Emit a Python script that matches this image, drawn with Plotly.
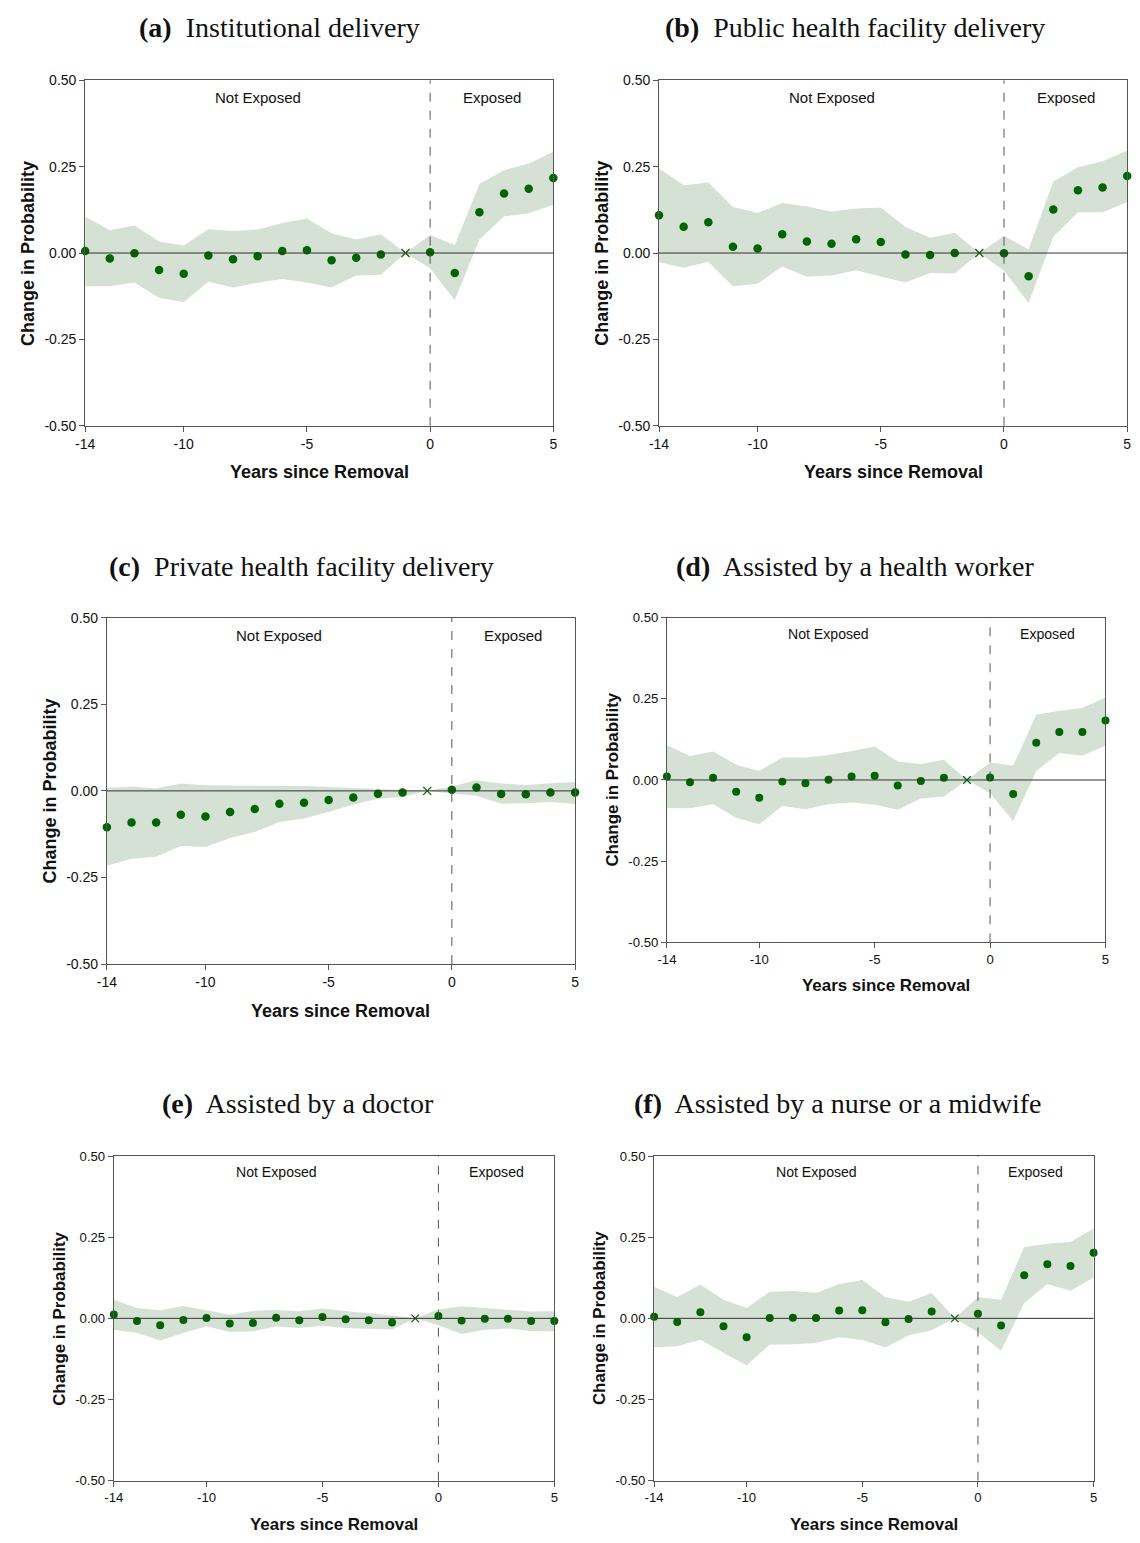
import plotly.graph_objects as go

# event time (years since removal), -1 is the omitted reference year
years = [-14, -13, -12, -11, -10, -9, -8, -7, -6, -5, -4, -3, -2, -1, 0, 1, 2, 3, 4, 5]

# (a) Institutional delivery
coef_a = [0.006, -0.016, -0.001, -0.049, -0.060, -0.007, -0.018, -0.009, 0.006, 0.008,
          -0.021, -0.014, -0.004, 0.0, 0.002, -0.058, 0.118, 0.172, 0.186, 0.217]
hi_a = [0.106, 0.066, 0.080, 0.033, 0.022, 0.069, 0.064, 0.068, 0.087, 0.100,
        0.057, 0.039, 0.054, 0.0, 0.052, 0.023, 0.200, 0.240, 0.259, 0.293]
lo_a = [-0.096, -0.096, -0.085, -0.130, -0.142, -0.083, -0.100, -0.086, -0.075, -0.085,
        -0.100, -0.065, -0.063, 0.0, -0.045, -0.137, 0.039, 0.106, 0.115, 0.140]

# (b) Public health facility delivery
coef_b = [0.109, 0.076, 0.089, 0.018, 0.013, 0.054, 0.033, 0.027, 0.040, 0.032,
          -0.004, -0.006, 0.000, 0.0, -0.001, -0.067, 0.126, 0.182, 0.190, 0.223]
hi_b = [0.245, 0.196, 0.204, 0.133, 0.116, 0.145, 0.135, 0.120, 0.129, 0.132,
        0.075, 0.044, 0.059, 0.0, 0.049, 0.011, 0.207, 0.248, 0.266, 0.297]
lo_b = [-0.027, -0.043, -0.025, -0.096, -0.089, -0.039, -0.069, -0.065, -0.050, -0.068,
        -0.085, -0.058, -0.059, 0.0, -0.051, -0.145, 0.047, 0.118, 0.118, 0.148]

# (c) Private health facility delivery
coef_c = [-0.105, -0.091, -0.091, -0.069, -0.074, -0.061, -0.052, -0.037, -0.034, -0.026,
          -0.019, -0.008, -0.005, 0.0, 0.003, 0.010, -0.009, -0.010, -0.005, -0.005]
hi_c = [0.008, 0.013, 0.007, 0.021, 0.016, 0.016, 0.016, 0.016, 0.014, 0.011,
        0.008, 0.006, 0.004, 0.0, 0.013, 0.031, 0.021, 0.017, 0.022, 0.026]
lo_c = [-0.216, -0.196, -0.190, -0.159, -0.162, -0.136, -0.119, -0.090, -0.080, -0.061,
        -0.039, -0.023, -0.018, 0.0, -0.007, -0.014, -0.037, -0.036, -0.032, -0.038]

# (d) Assisted by a health worker
coef_d = [0.011, -0.007, 0.007, -0.036, -0.055, -0.005, -0.010, 0.001, 0.011, 0.013,
          -0.017, -0.003, 0.007, 0.0, 0.008, -0.043, 0.115, 0.148, 0.148, 0.183]
hi_d = [0.107, 0.074, 0.088, 0.047, 0.028, 0.069, 0.069, 0.077, 0.089, 0.103,
        0.057, 0.049, 0.062, 0.0, 0.054, 0.044, 0.201, 0.213, 0.222, 0.254]
lo_d = [-0.086, -0.087, -0.075, -0.116, -0.136, -0.080, -0.090, -0.075, -0.069, -0.076,
        -0.092, -0.057, -0.051, 0.0, -0.040, -0.127, 0.028, 0.083, 0.075, 0.106]

# (e) Assisted by a doctor
coef_e = [0.012, -0.008, -0.021, -0.005, 0.001, -0.016, -0.014, 0.002, -0.006, 0.004,
          -0.003, -0.006, -0.013, 0.0, 0.007, -0.007, -0.001, -0.001, -0.008, -0.008]
hi_e = [0.057, 0.032, 0.025, 0.038, 0.025, 0.011, 0.023, 0.026, 0.022, 0.030,
        0.023, 0.017, 0.009, 0.0, 0.027, 0.037, 0.032, 0.027, 0.021, 0.022]
lo_e = [-0.035, -0.045, -0.068, -0.045, -0.024, -0.042, -0.040, -0.025, -0.030, -0.023,
        -0.030, -0.032, -0.034, 0.0, -0.021, -0.048, -0.035, -0.031, -0.039, -0.040]

# (f) Assisted by a nurse or a midwife
coef_f = [0.005, -0.011, 0.019, -0.024, -0.058, 0.001, 0.002, 0.001, 0.024, 0.025,
          -0.012, -0.002, 0.021, 0.0, 0.014, -0.022, 0.133, 0.167, 0.161, 0.202]
hi_f = [0.097, 0.065, 0.104, 0.057, 0.032, 0.082, 0.084, 0.079, 0.105, 0.118,
        0.065, 0.051, 0.078, 0.0, 0.065, 0.057, 0.220, 0.230, 0.235, 0.277]
lo_f = [-0.089, -0.086, -0.066, -0.106, -0.145, -0.081, -0.080, -0.076, -0.058, -0.067,
        -0.090, -0.052, -0.037, 0.0, -0.043, -0.100, 0.047, 0.106, 0.085, 0.126]

titles = ["<b>(a)</b>&nbsp; Institutional delivery",
          "<b>(b)</b>&nbsp; Public health facility delivery",
          "<b>(c)</b>&nbsp; Private health facility delivery",
          "<b>(d)</b>&nbsp; Assisted by a health worker",
          "<b>(e)</b>&nbsp; Assisted by a doctor",
          "<b>(f)</b>&nbsp; Assisted by a nurse or a midwife"]

x_ticks = [-14, -10, -5, 0, 5]
y_ticks = [-0.5, -0.25, 0, 0.25, 0.5]
y_ticklabels = ["-0.50", "-0.25", "0.00", "0.25", "0.50"]

W, H = 1140, 1543
OFF = 8  # page body margin shifts the figure by this many pixels

# pixel boxes (page coords): left, right, top, bottom, title x, title y, ytitle x, xtitle y, scale
boxes = [
    (76, 550, 73, 422, 273, 20, 18, 469, 1.0),
    (657, 1131, 73, 422, 855, 20, 599, 469, 1.0),
    (98, 572, 616, 966, 295, 564, 40, 1013, 1.0),
    (665, 1109, 616, 944, 855, 564, 610, 988, 0.94),
    (105, 551, 1160, 1488, 291, 1107, 50, 1532, 0.94),
    (652, 1097, 1160, 1488, 838, 1107, 597, 1532, 0.94),
]

panels = [(coef_a, hi_a, lo_a), (coef_b, hi_b, lo_b), (coef_c, hi_c, lo_c),
          (coef_d, hi_d, lo_d), (coef_e, hi_e, lo_e), (coef_f, hi_f, lo_f)]

green = "#006400"
band = "rgb(214,225,214)"


def fx(px):
    return (px - OFF) / W


def fy(py):
    return 1 - (py - OFF) / H


fig = go.Figure()
annotations = []
shapes = []
layout_axes = {}

for i, ((coef, hi, lo), box) in enumerate(zip(panels, boxes)):
    n = i + 1
    xa = "x" if n == 1 else "x%d" % n
    ya = "y" if n == 1 else "y%d" % n
    left, right, top, bottom, tx, ty, ytx, xty, s = box

    # confidence band
    fig.add_trace(go.Scatter(
        x=years + years[::-1], y=hi + lo[::-1],
        fill="toself", fillcolor=band, line=dict(width=0),
        mode="lines", hoverinfo="skip", showlegend=False,
        xaxis=xa, yaxis=ya))

    # point estimates (omitted year drawn as x)
    ref = years.index(-1)
    px = [x for k, x in enumerate(years) if k != ref]
    py = [c for k, c in enumerate(coef) if k != ref]
    fig.add_trace(go.Scatter(
        x=px, y=py, mode="markers",
        marker=dict(color=green, size=8.5 * s),
        cliponaxis=False, showlegend=False, xaxis=xa, yaxis=ya))
    fig.add_trace(go.Scatter(
        x=[years[ref]], y=[coef[ref]], mode="markers",
        marker=dict(symbol="x-thin", color=green, size=8 * s,
                    line=dict(color=green, width=1.3)),
        showlegend=False, xaxis=xa, yaxis=ya))

    tickfont = dict(family="Liberation Sans, Arial", size=14 * s, color="#111")
    layout_axes["xaxis" if n == 1 else "xaxis%d" % n] = dict(
        domain=[fx(left), fx(right)], anchor=ya, range=[-14, 5],
        tickvals=x_ticks, ticktext=[str(t) for t in x_ticks],
        ticks="outside", ticklen=5, tickcolor="#555", showgrid=False, zeroline=False,
        showline=True, linecolor="#555", linewidth=1, mirror=True, tickfont=tickfont)
    layout_axes["yaxis" if n == 1 else "yaxis%d" % n] = dict(
        domain=[fy(bottom), fy(top)], anchor=xa, range=[-0.5, 0.5],
        tickvals=y_ticks, ticktext=y_ticklabels,
        ticks="outside", ticklen=5, tickcolor="#555", showgrid=False, zeroline=False,
        showline=True, linecolor="#555", linewidth=1, mirror=True, tickfont=tickfont)

    # zero line and removal year marker
    shapes.append(dict(type="line", xref=xa + " domain", yref=ya, x0=0, x1=1, y0=0, y1=0,
                       line=dict(color="#333", width=1)))
    shapes.append(dict(type="line", xref=xa, yref=ya + " domain", x0=0, x1=0, y0=0, y1=1,
                       line=dict(color="#555", width=1, dash="dash")))

    labfont = dict(family="Liberation Sans, Arial", size=15 * s, color="#111")
    annotations.append(dict(xref=xa, yref=ya, x=-7, y=0.45, text="Not Exposed",
                            showarrow=False, font=labfont))
    annotations.append(dict(xref=xa, yref=ya, x=2.5, y=0.45, text="Exposed",
                            showarrow=False, font=labfont))
    # panel title
    annotations.append(dict(xref="paper", yref="paper", x=fx(tx), y=fy(ty),
                            xanchor="center", yanchor="middle", text=titles[i],
                            showarrow=False,
                            font=dict(family="Liberation Serif, DejaVu Serif", size=28,
                                      color="#111")))
    # axis titles
    titlefont = dict(family="Liberation Sans, Arial", size=18 * s, color="#111")
    annotations.append(dict(xref="paper", yref="paper", x=fx((left + right) / 2),
                            y=fy(xty), xanchor="center", yanchor="middle",
                            text="<b>Years since Removal</b>", showarrow=False,
                            font=titlefont))
    annotations.append(dict(xref="paper", yref="paper", x=fx(ytx),
                            y=fy((top + bottom) / 2), xanchor="center",
                            yanchor="middle", textangle=-90,
                            text="<b>Change in Probability</b>", showarrow=False,
                            font=titlefont))

fig.update_layout(
    width=W, height=H,
    margin=dict(l=0, r=0, t=0, b=0),
    paper_bgcolor="white", plot_bgcolor="white",
    annotations=annotations, shapes=shapes,
    **layout_axes)

fig.write_html("out.html")
